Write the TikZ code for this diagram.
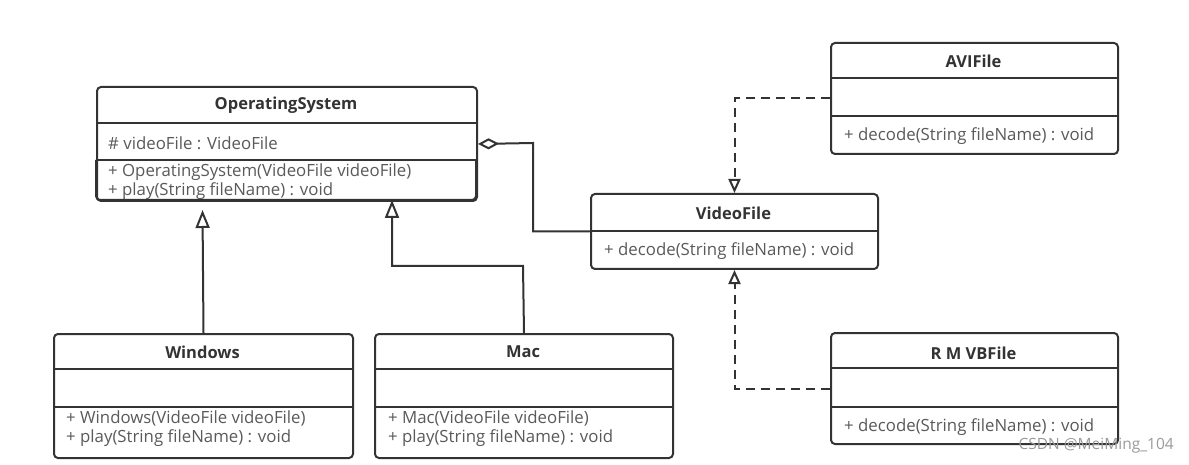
\documentclass[tikz,border=0pt]{standalone}
\usepackage{fontspec}
\setmainfont{Open Sans}
\usetikzlibrary{arrows.meta}
\definecolor{ln}{HTML}{333333}
\definecolor{tx}{HTML}{5A5A5A}
\definecolor{tt}{HTML}{333333}
\definecolor{wm}{HTML}{9A9A9A}
\tikzset{
  cls/.style={draw=ln, line width=2pt, rounded corners=4pt, rectangle, inner sep=0pt, anchor=north west, fill=white},
  divl/.style={draw=ln, line width=2pt},
  ttl/.style={font=\fontsize{16.5}{18}\selectfont\bfseries, text=tt, inner sep=0pt},
  mem/.style={font=\fontsize{16.8}{18}\selectfont, text=tx, inner sep=0pt, anchor=west},
  conn/.style={draw=ln, line width=2pt},
  dconn/.style={draw=ln, line width=2pt, dash pattern=on 9pt off 6pt},
  gen/.style={-{Triangle[open, length=18pt, width=14pt, line width=2pt]}},
  real/.style={-{Triangle[open, length=14pt, width=12pt, line width=2pt]}},
  agg/.style={{Diamond[open, length=21pt, width=11pt, line width=2pt]}-}
}
\begin{document}
\begin{tikzpicture}[x=1pt, y=-1pt]
\useasboundingbox[fill=white] (0,0) rectangle (1189,465);

% OperatingSystem
\node[cls, minimum width=380pt, minimum height=114pt] (os) at (96,86) {};
\draw[divl] (96,123) -- (476,123);
\draw[divl] (96,160) -- (476,160);
\node[ttl] (ost) at (286,105) {OperatingSystem};
\node[mem] (osa) at (108,143) {\# videoFile : VideoFile};
\node[mem] (osm1) at (108,172) {+ OperatingSystem(VideoFile videoFile)};
\node[mem] (osm2) at (108,191) {+ play(String fileName) : void};
\draw[divl, rounded corners=4pt] (96,160) -- (96,200) -- (476,200) -- (476,160);

% VideoFile
\node[cls, minimum width=287pt, minimum height=75pt] (vf) at (590,193) {};
\draw[divl] (590,231) -- (877,231);
\node[ttl] (vft) at (733.5,213) {VideoFile};
\node[mem] (vfm) at (604,251) {+ decode(String fileName) : void};

% AVIFile
\node[cls, minimum width=287pt, minimum height=111pt] (avi) at (830,42) {};
\draw[divl] (830,78) -- (1117,78);
\draw[divl] (830,116) -- (1117,116);
\node[ttl] (avit) at (973.5,61) {AVIFile};
\node[mem] (avim) at (844,136) {+ decode(String fileName) : void};

% RMVBFile
\node[cls, minimum width=287pt, minimum height=111pt] (rm) at (830,332) {};
\draw[divl] (830,368) -- (1117,368);
\draw[divl] (830,407) -- (1117,407);
\node[ttl] (rmt) at (973.5,353) {R M VBFile};
\node[mem] (rmm) at (844,427) {+ decode(String fileName) : void};

% Windows
\node[cls, minimum width=299pt, minimum height=124pt] (win) at (53,333) {};
\draw[divl] (53,369) -- (352,369);
\draw[divl] (53,407) -- (352,407);
\node[ttl] (wint) at (202.5,352) {Windows};
\node[mem] (winm1) at (66,418) {+ Windows(VideoFile videoFile)};
\node[mem] (winm2) at (66,438) {+ play(String fileName) : void};

% Mac
\node[cls, minimum width=298pt, minimum height=124pt] (mac) at (374,333) {};
\draw[divl] (374,369) -- (672,369);
\draw[divl] (374,407) -- (672,407);
\node[ttl] (mact) at (523,352) {Mac};
\node[mem] (macm1) at (388,418) {+ Mac(VideoFile videoFile)};
\node[mem] (macm2) at (388,438) {+ play(String fileName) : void};

% connectors
\coordinate (wintip) at (202.5,210);
\coordinate (macbend) at (523,266);
\coordinate (mactip) at (392,200);
\coordinate (aggbend) at (533,143);
\draw[conn, gen] (win.north) -- (wintip);
\draw[conn, gen] (mac.north) -- (macbend) -| (mactip);
\draw[conn, agg] (os.east) -- (aggbend) |- (vf.west);
\draw[dconn, real] (avi.west) -| (vf.north);
\draw[dconn, real] (rm.west) -| (vf.south);

% watermark
\node[font=\fontsize{15.5}{17}\selectfont, text=wm, anchor=east, inner sep=0pt] (wmk) at (1174,446) {CSDN @MeiMing\_104};
\end{tikzpicture}
\end{document}
